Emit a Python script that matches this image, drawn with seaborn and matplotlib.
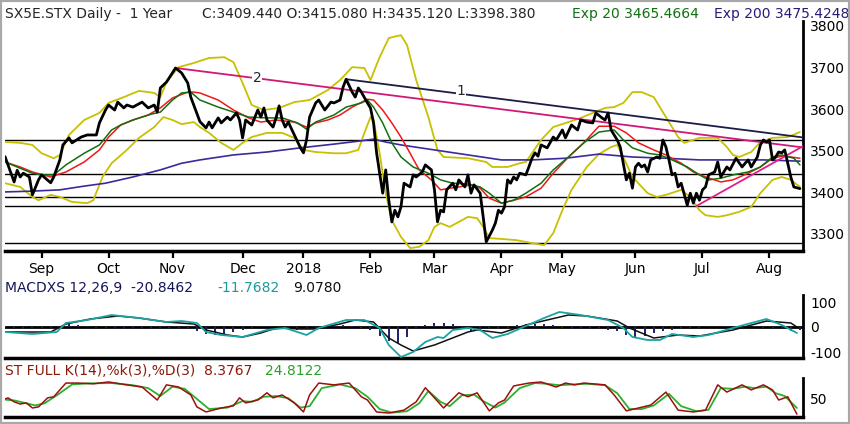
import numpy as np
import pandas as pd
import seaborn as sns
import matplotlib.pyplot as plt
from matplotlib.patches import Rectangle

# trading day index (0 = 16 Aug 2017) and values
price_day = [0, 3, 4, 5, 6, 8, 9, 11, 12, 15, 16, 18, 19, 21, 22, 25, 27, 30, 31, 33,
             34, 36, 37, 39, 40, 42, 45, 47, 49, 50, 51, 53, 56, 58, 60, 61, 64, 66, 67, 68,
             70, 71, 73, 74, 76, 77, 78, 79, 81, 83, 84, 85, 86, 88, 89, 90, 91, 92, 93, 95,
             97, 98, 99, 100, 102, 103, 105, 107, 108, 110, 111, 112, 114, 115, 116, 117, 119, 120, 121, 122,
             124, 125, 126, 127, 128, 129, 130, 131, 133, 134, 135, 137, 138, 140, 141, 142, 143, 144, 145, 147,
             148, 149, 151, 152, 153, 154, 156, 157, 158, 160, 161, 162, 163, 164, 165, 166, 167, 168, 169, 171,
             172, 173, 174, 175, 176, 178, 180, 181, 183, 184, 186, 188, 189, 191, 193, 194, 196, 197, 198, 199,
             201, 202, 203, 204, 205, 206, 207, 208, 209, 210, 211, 212, 214, 215, 216, 217, 218, 219, 220, 221,
             222, 224, 225, 226, 227, 228, 229, 230, 231, 233, 234, 235, 237, 238, 240, 242, 243, 244, 245, 247,
             248, 249, 250, 251, 252, 253, 254, 255, 256, 258, 259, 261]
price_close = [3486, 3425, 3453, 3437, 3446, 3437, 3394, 3430, 3442, 3423, 3437, 3478, 3514, 3531, 3519, 3533, 3538, 3538, 3567, 3598,
               3610, 3598, 3617, 3603, 3610, 3605, 3617, 3603, 3610, 3593, 3651, 3665, 3699, 3687, 3663, 3629, 3570, 3555, 3569, 3555,
               3579, 3567, 3581, 3574, 3591, 3574, 3531, 3574, 3562, 3598, 3581, 3603, 3574, 3557, 3579, 3608, 3574, 3557, 3569, 3538,
               3507, 3495, 3526, 3581, 3615, 3622, 3598, 3617, 3615, 3622, 3653, 3672, 3641, 3629, 3651, 3641, 3615, 3603, 3567, 3495,
               3398, 3454, 3381, 3329, 3357, 3341, 3365, 3422, 3413, 3442, 3437, 3449, 3466, 3454, 3406, 3329, 3357, 3353, 3406, 3422,
               3406, 3430, 3413, 3442, 3398, 3418, 3398, 3341, 3281, 3309, 3326, 3357, 3350, 3365, 3430, 3422, 3437, 3430, 3446, 3442,
               3461, 3482, 3495, 3487, 3514, 3507, 3533, 3526, 3550, 3531, 3562, 3550, 3574, 3569, 3567, 3591, 3579, 3574, 3591, 3550,
               3526, 3509, 3470, 3430, 3446, 3410, 3461, 3470, 3461, 3466, 3449, 3478, 3485, 3482, 3526, 3509, 3478, 3442, 3446, 3413,
               3422, 3369, 3398, 3374, 3398, 3381, 3406, 3413, 3442, 3449, 3473, 3437, 3461, 3454, 3482, 3461, 3470, 3478, 3461, 3485,
               3514, 3526, 3521, 3526, 3478, 3485, 3497, 3495, 3502, 3437, 3413, 3409]

ema20_day = [0, 5, 9, 12, 16, 20, 26, 31, 35, 38, 42, 48, 51, 55, 58, 61, 64, 70, 75, 80,
             86, 91, 96, 99, 102, 108, 112, 117, 119, 121, 124, 127, 130, 134, 139, 143, 147, 152, 156, 159,
             163, 167, 171, 176, 180, 185, 190, 195, 200, 203, 206, 211, 215, 219, 224, 228, 231, 235, 239, 244,
             248, 252, 255, 259, 261]
ema20_val = [3473, 3458, 3446, 3442, 3442, 3466, 3494, 3514, 3550, 3562, 3574, 3588, 3593, 3622, 3639, 3641, 3622, 3605, 3593, 3581,
             3579, 3579, 3567, 3552, 3569, 3586, 3605, 3615, 3622, 3605, 3567, 3519, 3485, 3461, 3446, 3430, 3422, 3420, 3413, 3398,
             3374, 3381, 3398, 3422, 3454, 3485, 3519, 3545, 3550, 3526, 3507, 3494, 3490, 3478, 3461, 3442, 3430, 3434, 3442, 3449,
             3461, 3485, 3490, 3482, 3466]

red_day = [0, 5, 9, 15, 17, 20, 26, 31, 34, 38, 42, 47, 51, 55, 60, 62, 64, 70, 75, 80,
           84, 89, 95, 99, 102, 106, 110, 114, 119, 121, 124, 127, 130, 133, 136, 140, 143, 146, 149, 153,
           156, 159, 163, 167, 171, 176, 180, 185, 190, 195, 200, 204, 208, 213, 217, 222, 226, 230, 235, 239,
           244, 248, 252, 255, 258, 261]
red_val = [3473, 3461, 3449, 3437, 3442, 3449, 3473, 3502, 3533, 3562, 3574, 3586, 3603, 3627, 3641, 3641, 3639, 3622, 3598, 3579,
           3569, 3574, 3569, 3557, 3567, 3574, 3586, 3605, 3624, 3622, 3598, 3567, 3533, 3494, 3454, 3430, 3406, 3410, 3413, 3418,
           3410, 3386, 3374, 3381, 3389, 3410, 3446, 3485, 3519, 3559, 3559, 3543, 3519, 3502, 3490, 3470, 3449, 3437, 3425, 3430,
           3446, 3461, 3482, 3487, 3485, 3482]

ema200_day = [0, 9, 18, 26, 33, 42, 51, 58, 64, 75, 86, 97, 108, 116, 121, 125, 130, 141, 152, 163,
              173, 184, 195, 206, 217, 228, 239, 249, 261]
ema200_val = [3401, 3403, 3406, 3415, 3422, 3437, 3454, 3470, 3478, 3490, 3497, 3507, 3516, 3523, 3528, 3521, 3514, 3502, 3490, 3478,
              3478, 3482, 3492, 3485, 3482, 3478, 3478, 3478, 3475]

upper_day = [0, 5, 9, 12, 16, 18, 21, 26, 31, 34, 39, 44, 49, 51, 53, 57, 62, 64, 67, 72,
             75, 78, 81, 85, 90, 95, 100, 106, 110, 114, 118, 120, 123, 126, 130, 132, 135, 139, 142, 144,
             152, 158, 160, 165, 169, 171, 176, 180, 185, 189, 193, 197, 200, 203, 206, 209, 213, 217, 221, 223,
             228, 234, 237, 239, 241, 245, 248, 252, 257, 261]
upper_val = [3521, 3519, 3514, 3494, 3482, 3490, 3538, 3574, 3591, 3615, 3629, 3644, 3639, 3629, 3665, 3701, 3711, 3716, 3723, 3725,
             3713, 3663, 3610, 3598, 3603, 3617, 3622, 3646, 3670, 3701, 3699, 3670, 3725, 3771, 3778, 3754, 3670, 3581, 3502, 3485,
             3482, 3473, 3461, 3461, 3470, 3473, 3526, 3557, 3569, 3579, 3591, 3603, 3605, 3615, 3641, 3641, 3629, 3581, 3533, 3519,
             3531, 3531, 3509, 3490, 3485, 3497, 3521, 3531, 3533, 3545]

lower_day = [0, 5, 9, 11, 15, 18, 22, 27, 29, 32, 35, 40, 44, 49, 52, 55, 58, 62, 64, 67,
             71, 75, 78, 81, 86, 91, 95, 98, 102, 108, 112, 116, 118, 120, 121, 123, 125, 127, 130, 133,
             136, 139, 141, 143, 146, 149, 152, 155, 157, 159, 163, 168, 173, 177, 180, 183, 186, 191, 195, 199,
             201, 203, 206, 211, 214, 217, 222, 225, 228, 230, 234, 237, 241, 245, 248, 252, 255, 258, 261]
lower_val = [3422, 3413, 3389, 3381, 3394, 3389, 3377, 3374, 3381, 3437, 3470, 3502, 3531, 3557, 3581, 3574, 3564, 3569, 3557, 3543,
             3519, 3502, 3519, 3533, 3543, 3543, 3531, 3502, 3497, 3494, 3494, 3502, 3543, 3581, 3574, 3494, 3398, 3333, 3293, 3266,
             3269, 3285, 3317, 3326, 3317, 3329, 3341, 3338, 3317, 3290, 3288, 3285, 3278, 3273, 3302, 3357, 3406, 3461, 3492, 3509,
             3514, 3485, 3437, 3398, 3389, 3394, 3406, 3389, 3357, 3345, 3341, 3345, 3353, 3365, 3398, 3430, 3437, 3430, 3413]

support_levels = [3526, 3444, 3389, 3367, 3278]
trend1_day, trend1_val = [112, 262], [3672, 3532]
trend2_day, trend2_val = [56, 262], [3699, 3508]
trend3_day, trend3_val = [227, 262], [3367, 3511]

month_ticks = [12, 34, 55, 78, 98, 120, 141, 163, 183, 207, 229, 251]
month_labels = ['Sep', 'Oct', 'Nov', 'Dec', '2018', 'Feb', 'Mar', 'Apr', 'May', 'Jun', 'Jul', 'Aug']

macd_day = [0, 15, 20, 28, 37, 44, 53, 62, 66, 73, 78, 84, 89, 97, 102, 110, 115, 121, 126, 130,
            134, 141, 152, 155, 163, 171, 185, 191, 201, 205, 213, 221, 228, 239, 250, 258, 260]
macd_val = [-20, -20, 12, 32, 44, 36, 20, 12, -12, -32, -40, -24, -4, -8, -8, 12, 28, 20, -44, -72,
            -96, -72, -20, -12, -24, 8, 48, 44, 24, -4, -44, -32, -36, -12, 24, 16, 0]
signal_day = [0, 9, 17, 20, 27, 35, 44, 53, 58, 63, 66, 71, 78, 86, 92, 99, 103, 112, 118, 123,
              126, 130, 134, 138, 142, 144, 147, 152, 156, 160, 165, 171, 177, 182, 189, 198, 203, 206, 211, 215,
              219, 226, 231, 239, 245, 250, 255, 260]
signal_val = [-20, -28, -20, 16, 28, 48, 36, 20, 24, 16, -20, -32, -40, -12, -4, -32, -4, 28, 28, -4,
              -72, -120, -100, -60, -40, -44, -12, -4, -12, -44, -28, 4, 36, 60, 48, 28, -4, -40, -52, -52,
              -28, -40, -32, -4, 16, 32, 8, -24]
hist_val = [-4, -5, -6, -5, -4, -3, 6, 12, 10, 6,
            -3, -5, -6, -6, -7, -8, -8, -7, -6, -6, -5,
            -14, -26, -32, -28, -18, -10, -4, 6, 5, -3, -6, -10, -8, -2,
            6, 8, 7, 4, -4, -12, -34, -56, -62, -40, -6, 10, 18, 16, 12,
            -8, -14, -12, -8, -6, -2, 8, 12, 14, 12, 8,
            -3, -6, -7, -8, -8, -10, -14, -30, -40, -34, -22,
            -14, -10, -8, -4, -2, -1, 2, 5, 6, 5, 3, -4, -6, -8, -14, -10]

stk_day = [0, 1, 3, 5, 7, 9, 11, 14, 16, 20, 24, 29, 34, 40, 45, 50, 53, 57, 61, 63,
           66, 71, 75, 77, 79, 83, 86, 88, 91, 95, 98, 100, 103, 108, 113, 117, 119, 122, 126, 131,
           135, 138, 141, 144, 149, 152, 155, 159, 162, 164, 167, 172, 176, 181, 184, 187, 190, 197, 200, 204,
           208, 212, 217, 221, 226, 230, 234, 237, 242, 245, 249, 252, 254, 257, 260]
stk_val = [50, 53, 42, 36, 39, 25, 28, 53, 56, 94, 94, 92, 97, 89, 83, 47, 89, 83, 61, 28,
           14, 25, 31, 53, 39, 47, 67, 53, 61, 39, 14, 61, 94, 89, 94, 56, 47, 14, 11, 19,
           42, 81, 53, 25, 67, 56, 67, 17, 39, 47, 86, 94, 97, 83, 94, 89, 94, 89, 61, 17,
           25, 33, 69, 19, 14, 19, 89, 69, 89, 75, 89, 75, 47, 56, 8]
std_day = [0, 3, 6, 10, 13, 17, 22, 27, 35, 42, 47, 51, 55, 59, 63, 67, 73, 78, 81, 85,
           89, 93, 97, 100, 104, 110, 115, 119, 123, 127, 132, 136, 139, 143, 146, 150, 154, 157, 161, 164,
           169, 174, 178, 182, 186, 191, 197, 201, 205, 209, 213, 218, 222, 227, 231, 235, 239, 243, 246, 250,
           253, 256, 260]
std_val = [48, 46, 40, 32, 38, 60, 90, 93, 94, 88, 80, 58, 84, 78, 50, 22, 26, 44, 42, 56,
           58, 52, 26, 30, 80, 90, 80, 56, 22, 12, 16, 38, 72, 42, 30, 60, 62, 44, 26, 40,
           80, 94, 92, 88, 90, 92, 88, 66, 22, 22, 32, 64, 30, 16, 20, 80, 78, 84, 80, 84,
           66, 58, 25]

sns.set_theme(style="white")
plt.rcParams['font.family'] = ['DejaVu Sans']
plt.rcParams['axes.unicode_minus'] = False

W, H = 850, 424
fig = plt.figure(figsize=(W / 100, H / 100), dpi=100)
fig.patch.set_facecolor('white')


def panel(top, bottom):
    return fig.add_axes([5 / W, 1 - bottom / H, 798 / W, (bottom - top) / H])


ax = panel(21, 251)
axm = panel(295, 358)
axs = panel(378, 417)

YEL = '#c8c000'

def line(a, xs, ys, color, lw, z=2):
    sns.lineplot(x=xs, y=ys, ax=a, color=color, linewidth=lw, sort=False,
                 estimator=None, legend=False, zorder=z)

# main price panel
for lvl in support_levels:
    ax.axhline(lvl, color='black', lw=1.0, zorder=1)
line(ax, upper_day, upper_val, YEL, 1.3)
line(ax, lower_day, lower_val, YEL, 1.3)
line(ax, ema200_day, ema200_val, '#3a2a9a', 1.2)
line(ax, red_day, red_val, '#f01818', 1.1, 3)
line(ax, ema20_day, ema20_val, '#107010', 1.1, 3)
line(ax, trend1_day, trend1_val, '#1c1c48', 1.3, 3)
line(ax, trend2_day, trend2_val, '#d01878', 1.3, 3)
line(ax, trend3_day, trend3_val, '#e0208a', 1.3, 3)
line(ax, price_day, price_close, 'black', 2.0, 4)
ax.text(82.7, 3675, '2', fontsize=10, ha='center', va='center', zorder=5,
        bbox=dict(fc='white', ec='none', pad=0.5))
ax.text(149.7, 3644, '1', fontsize=10, ha='center', va='center', zorder=5,
        bbox=dict(fc='white', ec='none', pad=0.5))
ax.set_ylim(3259, 3812)
ax.set_yticks([3300, 3400, 3500, 3600, 3700, 3800])
ax.set_xticks(month_ticks)
ax.set_xticklabels(month_labels)
ax.tick_params(axis='x', direction='out', length=5, width=1.6, pad=3,
               labelsize=10, colors='black', bottom=True)

# MACD panel
axm.axhline(0, color='black', lw=2.0, zorder=1)
axm.vlines(np.arange(0, 262, 3), 0, hist_val, color='#1e1e66', lw=1.4, zorder=2)
line(axm, macd_day, macd_val, '#111111', 1.1, 3)
line(axm, signal_day, signal_val, '#1aa3a3', 1.3, 3)
axm.set_ylim(-124, 128)
axm.set_yticks([100, 0, -100])

# stochastic panel
line(axs, stk_day, stk_val, '#9a1010', 1.1, 3)
line(axs, std_day, std_val, '#2cb02c', 1.3, 2)
axs.set_ylim(0, 108)
axs.set_yticks([50])

for a in (ax, axm, axs):
    a.set_facecolor('white')
    a.set_xlim(0, 262)
    a.set_xlabel('')
    a.set_ylabel('')
    a.grid(False)
    for s in ('left', 'top'):
        a.spines[s].set_visible(False)
    a.spines['right'].set_color('black')
    a.spines['right'].set_linewidth(2)
    a.spines['bottom'].set_color('black')
    a.spines['bottom'].set_linewidth(2.5)
    a.yaxis.tick_right()
    a.tick_params(axis='y', length=0, pad=5, labelsize=10, colors='black')
    if a is not ax:
        a.set_xticks([])

# header texts
ty = 1 - 14 / H
fig.text(5 / W, ty, 'SX5E.STX Daily -  1 Year', fontsize=10, va='center')
fig.text(202 / W, ty, 'C:3409.440 O:3415.080 H:3435.120 L:3398.380', fontsize=10, va='center')
fig.text(572 / W, ty, 'Exp 20 3465.4664', fontsize=10, va='center', color='#107010')
fig.text(714 / W, ty, 'Exp 200 3475.4248', fontsize=10, va='center', color='#2a1a78')

my = 1 - 288 / H
fig.text(5 / W, my, 'MACDXS 12,26,9  -20.8462', fontsize=10, va='center', color='#14145a')
fig.text(217 / W, my, '-11.7682', fontsize=10, va='center', color='#1a9a9a')
fig.text(293 / W, my, '9.0780', fontsize=10, va='center', color='#111111')

sy = 1 - 371 / H
fig.text(5 / W, sy, 'ST FULL K(14),%k(3),%D(3)  8.3767', fontsize=10, va='center', color='#8a1a0a')
fig.text(265 / W, sy, '24.8122', fontsize=10, va='center', color='#2aa02a')

fig.patches.append(Rectangle((0, 0), 1, 1, transform=fig.transFigure, fill=False,
                             ec='#a8a8a8', lw=3, zorder=10))

fig.savefig('out.png', dpi=100)
